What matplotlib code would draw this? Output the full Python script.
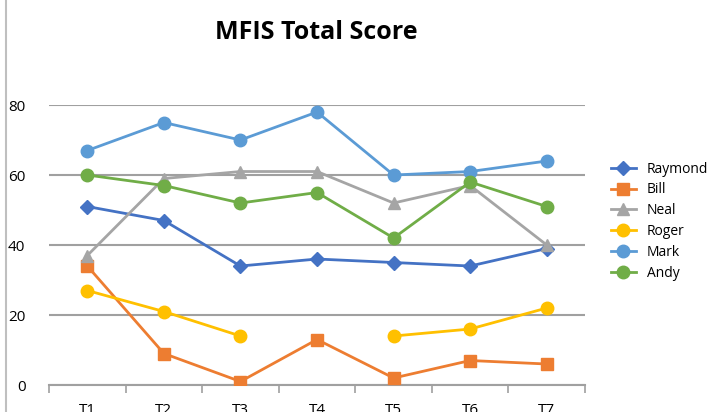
import numpy as np
import matplotlib
matplotlib.use("Agg")
import matplotlib.pyplot as plt
from matplotlib.lines import Line2D

# scores per time point
times = ["T1", "T2", "T3", "T4", "T5", "T6", "T7"]
raymond = [51, 47, 34, 36, 35, 34, 39]
bill = [34, 9, 1, 13, 2, 7, 6]
neal = [37, 59, 61, 61, 52, 57, 40]
roger = [27, 21, 14, np.nan, 14, 16, 22]
mark = [67, 75, 70, 78, 60, 61, 64]
andy = [60, 57, 52, 55, 42, 58, 51]

series = [
    ("Raymond", raymond, "#4472C4", "D", 7),
    ("Bill", bill, "#ED7D31", "s", 8),
    ("Neal", neal, "#A5A5A5", "^", 8),
    ("Roger", roger, "#FFC000", "o", 9),
    ("Mark", mark, "#5B9BD5", "o", 9),
    ("Andy", andy, "#70AD47", "o", 9),
]

plt.rcParams["font.family"] = ["Open Sans", "DejaVu Sans"]

fig = plt.figure(figsize=(7.22, 4.12), dpi=100)
ax = fig.add_axes([0.0679, 0.0655, 0.7424, 0.6796])

x = np.arange(len(times))
for name, vals, color, marker, ms in series:
    ax.plot(x, vals, color=color, marker=marker, markersize=ms,
            linewidth=2, label=name, zorder=3)

ax.set_xlim(-0.5, len(times) - 0.5)
ax.set_ylim(0, 80)
ax.set_yticks([0, 20, 40, 60, 80])
ax.yaxis.grid(True, color="#A0A0A0", linewidth=1.5, zorder=0)
ax.set_axisbelow(True)

ax.set_xticks(x)
ax.set_xticklabels(times)
ax.set_xticks(np.arange(-0.5, len(times)), minor=True)
ax.tick_params(axis="x", which="major", length=0, pad=13, labelsize=11)
ax.tick_params(axis="x", which="minor", length=6, width=1.2, color="#A0A0A0")
ax.tick_params(axis="y", length=0, pad=17, labelsize=11)

for side in ["top", "right", "left"]:
    ax.spines[side].set_visible(False)
ax.spines["bottom"].set_color("#A0A0A0")
ax.spines["bottom"].set_linewidth(1.5)

fig.text(0.438, 0.922, "MFIS Total Score", ha="center", va="center",
         fontsize=18, fontweight="bold")

ax.legend(loc="center left", bbox_to_anchor=(1.025, 0.585), frameon=False,
          fontsize=10, handlelength=1.8, labelspacing=0.42, numpoints=1)

# chart frame edge on the left
fig.add_artist(Line2D([0.008, 0.008], [0, 1], transform=fig.transFigure,
                      color="#BFBFBF", linewidth=1.5))

fig.savefig("out.png", dpi=100)
